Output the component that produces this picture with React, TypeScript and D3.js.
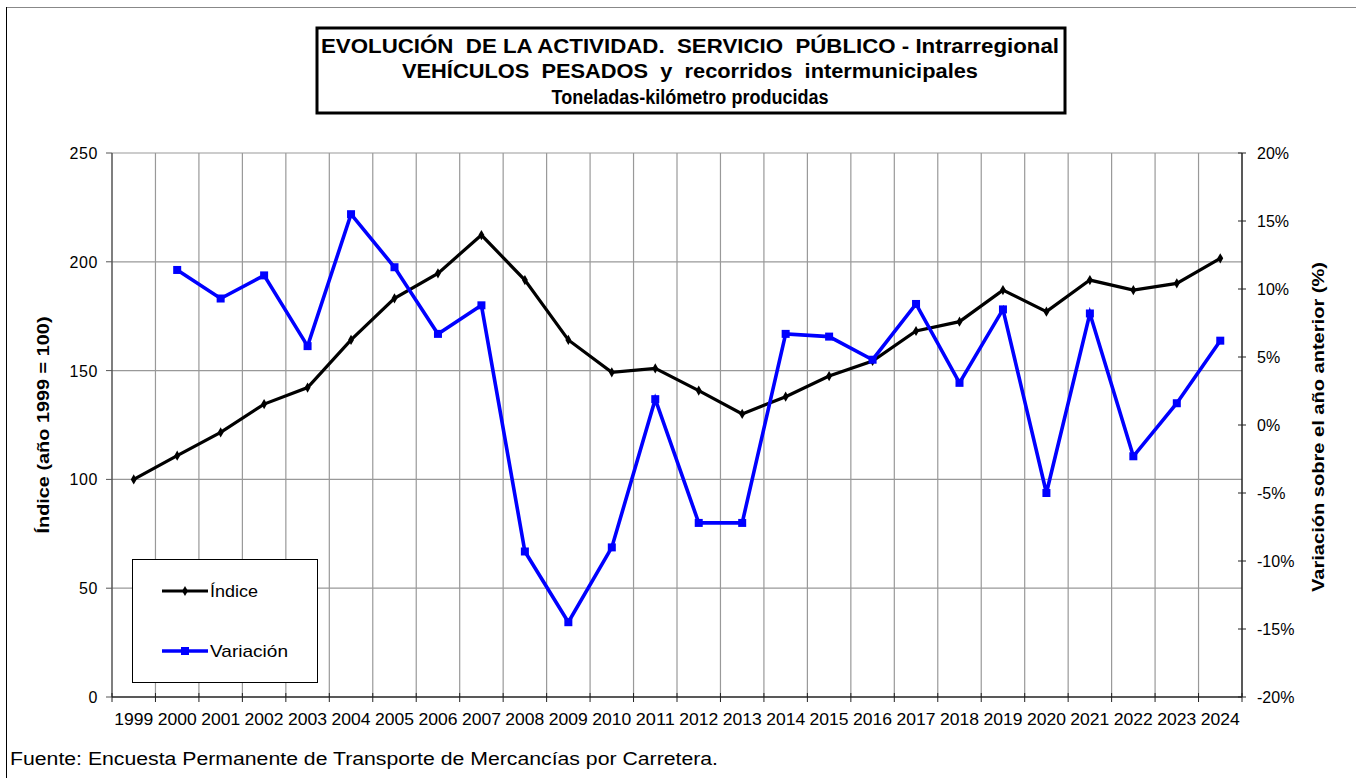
import React from "react";
import * as d3 from "d3";

const years = ["1999","2000","2001","2002","2003","2004","2005","2006","2007","2008","2009","2010","2011","2012","2013","2014","2015","2016","2017","2018","2019","2020","2021","2022","2023","2024"];
const indice = [100, 110.9, 121.6, 134.6, 142.2, 164.1, 183.2, 194.7, 212.3, 191.6, 164.1, 149.2, 151.0, 140.8, 130.1, 138.0, 147.5, 154.4, 168.2, 172.5, 187.0, 177.1, 191.6, 187.0, 190.1, 201.6];
const variacionYears = ["2000","2001","2002","2003","2004","2005","2006","2007","2008","2009","2010","2011","2012","2013","2014","2015","2016","2017","2018","2019","2020","2021","2022","2023","2024"];
const variacion = [11.4, 9.3, 11.0, 5.8, 15.5, 11.6, 6.7, 8.8, -9.3, -14.5, -9.0, 1.9, -7.2, -7.2, 6.7, 6.5, 4.8, 8.9, 3.1, 8.5, -5.0, 8.2, -2.3, 1.6, 6.2];
const leftTicks = [0, 50, 100, 150, 200, 250];
const rightTicks = [-20, -15, -10, -5, 0, 5, 10, 15, 20];
const titleLines = [
  "EVOLUCIÓN  DE LA ACTIVIDAD.  SERVICIO  PÚBLICO - Intrarregional",
  "VEHÍCULOS  PESADOS  y  recorridos  intermunicipales",
  "Toneladas-kilómetro producidas",
];
const titleWidths = [738, 576, 277];
const leftTitle = "Índice (año 1999 = 100)";
const rightTitle = "Variación sobre el año anterior (%)";
const footer = "Fuente: Encuesta Permanente de Transporte de Mercancías por Carretera.";
const legendLabels = ["Índice", "Variación"];

const FONT = "'Liberation Sans', Arial, sans-serif";

export default function App() {
  const L = 112, R = 1242, T = 153, B = 697;
  const x = d3.scaleBand<string>().domain(years).range([L, R]).padding(0);
  const cx = (y: string) => (x(y) as number) + x.bandwidth() / 2;
  const yL = d3.scaleLinear().domain([0, 250]).range([B, T]);
  const yR = d3.scaleLinear().domain([-20, 20]).range([B, T]);

  const lineIdx = d3.line<number>().x((_, i) => cx(years[i])).y((d) => yL(d));
  const lineVar = d3.line<number>().x((_, i) => cx(variacionYears[i])).y((d) => yR(d));

  const boundaries = years.map((y) => x(y) as number).concat([R]);
  const diamond = d3.symbol().type(d3.symbolDiamond).size(30)() || "";

  return (
    <svg width={1356} height={778} style={{ position: "absolute", left: 0, top: 0 }} fontFamily={FONT}>
      <rect x={0} y={0} width={1356} height={778} fill="#fff" />
      {/* outer border */}
      <line x1={6} y1={7.5} x2={1356} y2={7.5} stroke="#888" strokeWidth={1} />
      <line x1={6.5} y1={7} x2={6.5} y2={778} stroke="#000" strokeWidth={1} />

      {/* title box */}
      <rect x={317} y={28} width={748} height={85} fill="#fff" stroke="#000" strokeWidth={3} />
      {titleLines.map((t, i) => (
        <text key={i} x={690} y={52.5 + i * 25.5} textAnchor="middle" fontSize={19.5} fontWeight="bold"
          textLength={titleWidths[i]} lengthAdjust="spacingAndGlyphs" style={{ whiteSpace: "pre" }}>{t}</text>
      ))}

      {/* vertical gridlines */}
      {boundaries.slice(1, -1).map((bx, i) => (
        <line key={"vg" + i} x1={bx} x2={bx} y1={T} y2={B} stroke="#999" strokeWidth={1.2} />
      ))}
      {/* horizontal gridlines */}
      {leftTicks.filter((t) => t > 0).map((t) => (
        <line key={"hg" + t} x1={L} x2={R} y1={yL(t)} y2={yL(t)} stroke="#999" strokeWidth={1.2} />
      ))}

      {/* axes */}
      <line x1={L} x2={L} y1={T} y2={B} stroke="#555" strokeWidth={1.5} />
      <line x1={R} x2={R} y1={T} y2={B} stroke="#222" strokeWidth={1.5} />
      <line x1={L} x2={R} y1={B} y2={B} stroke="#222" strokeWidth={1.5} />
      {leftTicks.map((t) => (
        <g key={"lt" + t}>
          <line x1={L - 6} x2={L} y1={yL(t)} y2={yL(t)} stroke="#555" strokeWidth={1} />
          <text x={98} y={yL(t) + 6} textAnchor="end" fontSize={16} letterSpacing={0.6}>{t}</text>
        </g>
      ))}
      {rightTicks.map((t) => (
        <g key={"rt" + t}>
          <line x1={R - 4} x2={R + 4} y1={yR(t)} y2={yR(t)} stroke="#222" strokeWidth={1} />
          <text x={1257} y={yR(t) + 6} textAnchor="start" fontSize={16}>{t + "%"}</text>
        </g>
      ))}
      {boundaries.map((bx, i) => (
        <line key={"xt" + i} x1={bx} x2={bx} y1={B - 4} y2={B + 5} stroke="#222" strokeWidth={1} />
      ))}
      {years.map((y) => (
        <text key={"xl" + y} x={cx(y)} y={725} textAnchor="middle" fontSize={17}
          textLength={39} lengthAdjust="spacingAndGlyphs">{y}</text>
      ))}

      {/* axis titles */}
      <text transform={`translate(49,${(T + B) / 2}) rotate(-90)`} textAnchor="middle" fontSize={17} fontWeight="bold"
        textLength={217} lengthAdjust="spacingAndGlyphs">{leftTitle}</text>
      <text transform={`translate(1324,${(T + B) / 2 + 2}) rotate(-90)`} textAnchor="middle" fontSize={17} fontWeight="bold"
        textLength={330} lengthAdjust="spacingAndGlyphs">{rightTitle}</text>

      {/* series */}
      <path d={lineIdx(indice) || ""} fill="none" stroke="#000" strokeWidth={3.2} strokeLinejoin="miter" />
      {indice.map((v, i) => (
        <path key={"m" + i} d={diamond} transform={`translate(${cx(years[i])},${yL(v)})`} fill="#000" />
      ))}
      <path d={lineVar(variacion) || ""} fill="none" stroke="#0000ff" strokeWidth={3.6} strokeLinejoin="miter" />
      {variacion.map((v, i) => (
        <rect key={"s" + i} x={cx(variacionYears[i]) - 4} y={yR(v) - 4} width={8} height={8} fill="#0000ff" />
      ))}

      {/* legend */}
      <rect x={132.5} y={559.5} width={185} height={123} fill="#fff" stroke="#000" strokeWidth={1} />
      <line x1={162} x2={208} y1={591} y2={591} stroke="#000" strokeWidth={3.2} />
      <path d={diamond} transform="translate(185,591)" fill="#000" />
      <text x={210} y={597} fontSize={17} textLength={48} lengthAdjust="spacingAndGlyphs">{legendLabels[0]}</text>
      <line x1={162} x2={208} y1={651} y2={651} stroke="#0000ff" strokeWidth={3.6} />
      <rect x={181} y={647} width={8} height={8} fill="#0000ff" />
      <text x={210} y={657} fontSize={17} textLength={78} lengthAdjust="spacingAndGlyphs">{legendLabels[1]}</text>

      {/* footer */}
      <text x={10} y={765} fontSize={17.5} textLength={708} lengthAdjust="spacingAndGlyphs">{footer}</text>
    </svg>
  );
}
